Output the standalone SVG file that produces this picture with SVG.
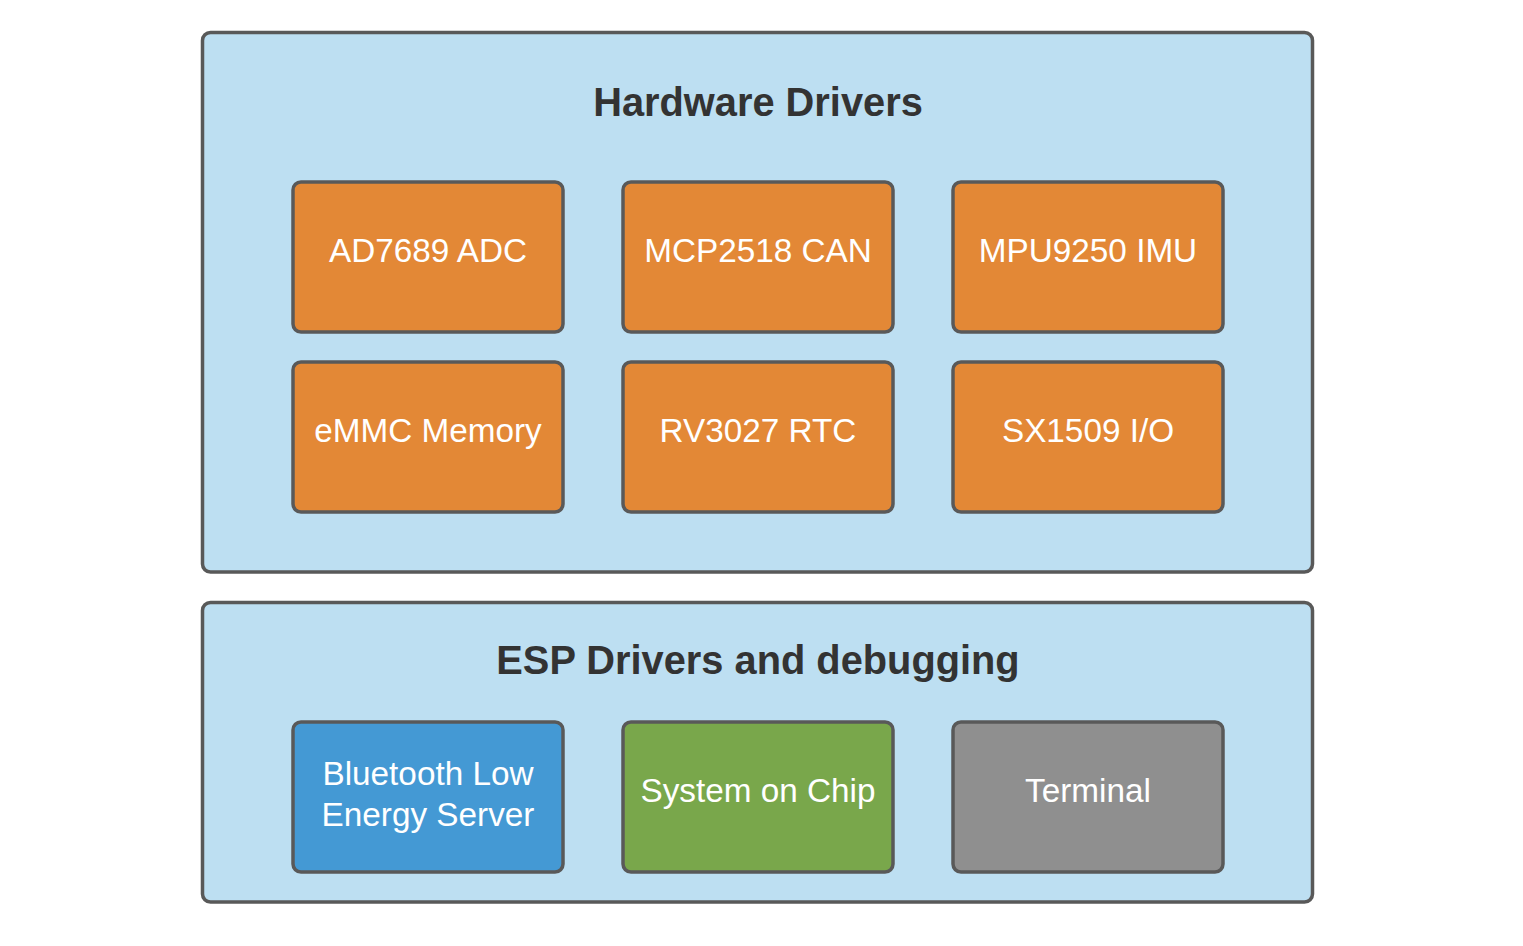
<svg xmlns="http://www.w3.org/2000/svg" width="1523" height="946" viewBox="0 0 1523 946">
<style>
.group{fill:#BDDFF2;stroke:#595959;stroke-width:3.5}
.node{stroke:#595959;stroke-width:3.5}
.orange{fill:#E38836}
.blue{fill:#4499D4}
.green{fill:#79A74B}
.gray{fill:#8F8F8F}
.title{font-family:"Liberation Sans",Arial,sans-serif;font-weight:bold;font-size:39.8px;fill:#333333;text-anchor:middle}
.label{font-family:"Liberation Sans",Arial,sans-serif;font-size:33.3px;fill:#FFFFFF;text-anchor:middle}
</style>
<rect width="1523" height="946" fill="#FFFFFF"/>
<g id="hardware-drivers">
<rect class="group" x="202.5" y="32.5" width="1110" height="539.5" rx="8"/>
<text class="title" x="758" y="116">Hardware Drivers</text>
</g>
<g id="esp-drivers">
<rect class="group" x="202.5" y="602.5" width="1110" height="299.5" rx="8"/>
<text class="title" x="758" y="674">ESP Drivers and debugging</text>
</g>
<g id="ad7689">
<rect class="node orange" x="293" y="182" width="270" height="150" rx="8"/>
<text class="label" x="428" y="262">AD7689 ADC</text>
</g>
<g id="mcp2518">
<rect class="node orange" x="623" y="182" width="270" height="150" rx="8"/>
<text class="label" x="758" y="262">MCP2518 CAN</text>
</g>
<g id="mpu9250">
<rect class="node orange" x="953" y="182" width="270" height="150" rx="8"/>
<text class="label" x="1088" y="262">MPU9250 IMU</text>
</g>
<g id="emmc">
<rect class="node orange" x="293" y="362" width="270" height="150" rx="8"/>
<text class="label" x="428" y="442">eMMC Memory</text>
</g>
<g id="rv3027">
<rect class="node orange" x="623" y="362" width="270" height="150" rx="8"/>
<text class="label" x="758" y="442">RV3027 RTC</text>
</g>
<g id="sx1509">
<rect class="node orange" x="953" y="362" width="270" height="150" rx="8"/>
<text class="label" x="1088" y="442">SX1509 I/O</text>
</g>
<g id="ble">
<rect class="node blue" x="293" y="722" width="270" height="150" rx="8"/>
<text class="label" x="428" y="785">Bluetooth Low</text>
<text class="label" x="428" y="826">Energy Server</text>
</g>
<g id="soc">
<rect class="node green" x="623" y="722" width="270" height="150" rx="8"/>
<text class="label" x="758" y="802">System on Chip</text>
</g>
<g id="terminal">
<rect class="node gray" x="953" y="722" width="270" height="150" rx="8"/>
<text class="label" x="1088" y="802">Terminal</text>
</g>
<g id="connectors"></g>
</svg>
